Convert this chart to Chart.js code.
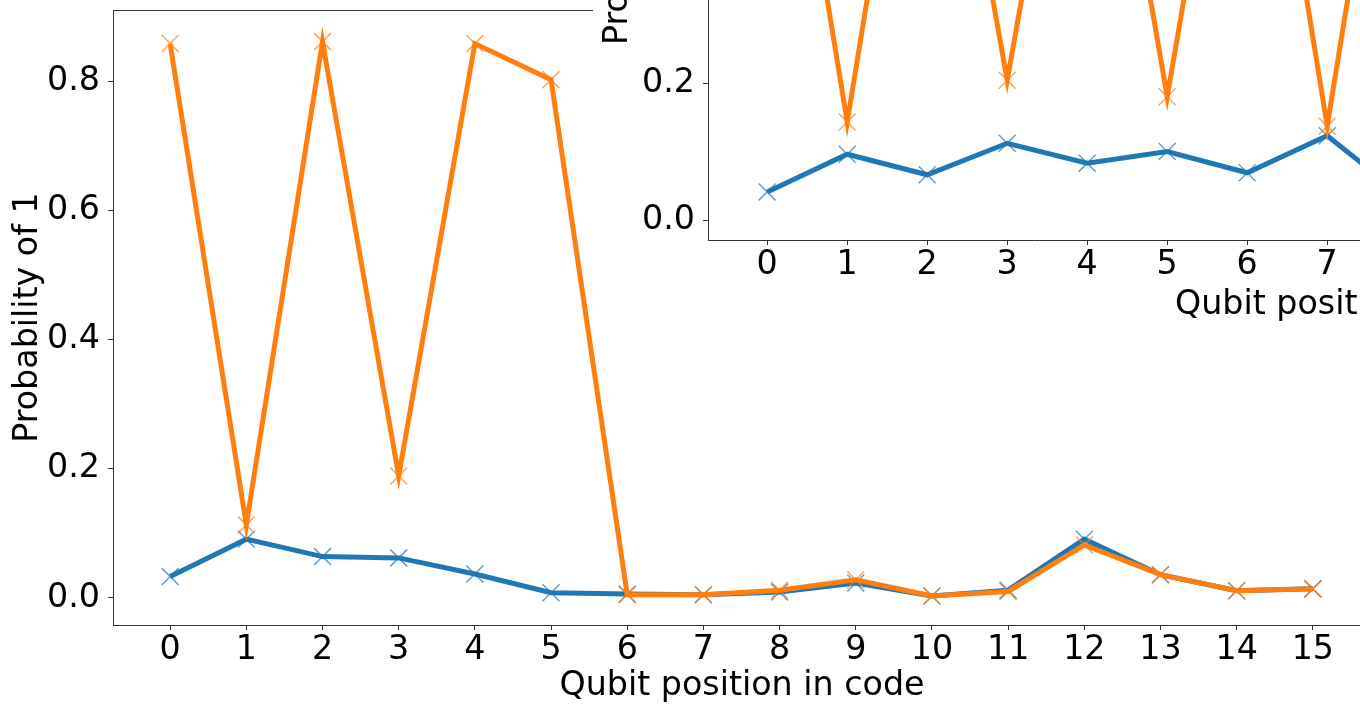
<!DOCTYPE html>
<html>
<head>
<meta charset="utf-8">
<script src="https://cdn.jsdelivr.net/npm/chart.js@4.4.1/dist/chart.umd.min.js"></script>
<style>
    html, body { margin: 0; padding: 0; background: #fff; overflow: hidden; width: 1360px; height: 704px; }
    #main { position: absolute; left: 0; top: 0; }
    #inset { position: absolute; left: 593px; top: 0; background: #fff; }
</style>
</head>
<body>
<canvas id="main" width="1380" height="704"></canvas>
<canvas id="inset" width="767" height="335"></canvas>
<script>
// qubit positions and their tick labels
var qubitPos = [0, 1, 2, 3, 4, 5, 6, 7, 8, 9, 10, 11, 12, 13, 14, 15];
var qubitLabels = ['0', '1', '2', '3', '4', '5', '6', '7', '8', '9', '10', '11', '12', '13', '14', '15'];
var yTicks = [0, 0.2, 0.4, 0.6, 0.8];
var insetYTicks = [0, 0.2];

// main plot
var mainBlue = [0.033, 0.091, 0.064, 0.062, 0.037, 0.008, 0.006, 0.005, 0.009, 0.023, 0.003, 0.012, 0.091, 0.036, 0.011, 0.014];
var mainOrange = [0.859, 0.113, 0.862, 0.189, 0.859, 0.803, 0.005, 0.005, 0.012, 0.028, 0.003, 0.010, 0.082, 0.036, 0.011, 0.014];

// inset plot (only positions 0..8 reach the visible part)
var insetPos = [0, 1, 2, 3, 4, 5, 6, 7, 8];
var insetBlue = [0.041, 0.096, 0.066, 0.112, 0.083, 0.100, 0.069, 0.123, 0.030];
var insetOrange = [0.86, 0.143, 0.86, 0.204, 0.86, 0.180, 0.86, 0.137, 0.86];

var BLUE = '#1f77b4';
var ORANGE = '#ff7f0e';
var FONT = '"DejaVu Sans", sans-serif';
var FONT_SIZE = 33.3;
var AXIS = '#333333';

function points(xs, ys) {
    return ys.map(function (v, i) { return {x: xs[i], y: v}; });
}

function series(xs, ys, color, markerColor, order) {
    return {
        data: points(xs, ys),
        borderColor: color,
        borderWidth: 5,
        pointStyle: 'crossRot',
        pointRadius: 12,
        pointBorderWidth: 1.5,
        pointBorderColor: markerColor,
        pointBackgroundColor: markerColor,
        tension: 0,
        order: order
    };
}

function labelFor(v) {
    var i = qubitPos.indexOf(v);
    return i >= 0 ? qubitLabels[i] : '';
}

function noPad(s) {
    s.paddingTop = 0;
    s.paddingBottom = 0;
    s.paddingLeft = 0;
    s.paddingRight = 0;
}

function axes(xMin, xMax, yMin, yMax, ticksY, xHeight, yWidth) {
    return {
        x: {
            type: 'linear', min: xMin, max: xMax,
            afterBuildTicks: function (s) {
                s.ticks = qubitPos.filter(function (v) { return v >= xMin && v <= xMax; })
                    .map(function (v) { return {value: v}; });
            },
            afterFit: function (s) { s.height = xHeight; noPad(s); },
            grid: {drawOnChartArea: false, drawTicks: true, tickLength: 5, color: AXIS},
            border: {display: true, color: AXIS, width: 1},
            ticks: {
                font: {family: FONT, size: FONT_SIZE}, color: '#000', padding: 0,
                maxRotation: 0, autoSkip: false,
                callback: function (v) { return labelFor(v); }
            }
        },
        y: {
            type: 'linear', min: yMin, max: yMax,
            afterBuildTicks: function (s) {
                s.ticks = ticksY.filter(function (v) { return v >= yMin && v <= yMax; })
                    .map(function (v) { return {value: v}; });
            },
            afterFit: function (s) { s.width = yWidth; noPad(s); },
            grid: {drawOnChartArea: false, drawTicks: true, tickLength: 5, color: AXIS},
            border: {display: true, color: AXIS, width: 1},
            ticks: {
                font: {family: FONT, size: FONT_SIZE}, color: '#000', padding: 8,
                callback: function (v) { return v.toFixed(1); }
            }
        }
    };
}

function textPlugin(items, frame) {
    return {
        id: 'texts',
        afterDraw: function (ch) {
            var c = ch.ctx,
                a = ch.chartArea;
            if (frame) {
                c.save();
                c.strokeStyle = AXIS;
                c.lineWidth = 1;
                c.strokeRect(Math.round(a.left) + 0.5, Math.round(a.top) + 0.5,
                    Math.round(a.right - a.left), Math.round(a.bottom - a.top));
                c.restore();
            }
            items.forEach(function (t) {
                var y = t.y === 'mid' ? (a.top + a.bottom) / 2 : t.y;
                c.save();
                c.font = FONT_SIZE + 'px ' + FONT;
                c.fillStyle = '#000';
                c.textBaseline = 'alphabetic';
                c.textAlign = t.align;
                c.translate(t.x, y);
                if (t.rot) { c.rotate(-Math.PI / 2); }
                c.fillText(t.text, 0, 0);
                c.restore();
            });
        }
    };
}

function baseOptions(scales, padding) {
    return {
        responsive: false,
        animation: false,
        events: [],
        layout: {padding: padding, autoPadding: false},
        plugins: {legend: {display: false}, tooltip: {enabled: false}},
        scales: scales
    };
}

new Chart(document.getElementById('main'), {
    type: 'line',
    data: {
        datasets: [
            series(qubitPos, mainBlue, BLUE, 'rgba(31,119,180,0.7)', 2),
            series(qubitPos, mainOrange, ORANGE, 'rgba(255,127,14,0.7)', 1)
        ]
    },
    options: baseOptions(axes(-0.75, 15.75, -0.042, 0.911, yTicks, 79, 113),
        {top: 10, right: 10, left: 0, bottom: 0}),
    plugins: [textPlugin([
        {text: 'Qubit position in code', x: 742, y: 695, align: 'center'},
        {text: 'Probability of 1', x: 37, y: 'mid', align: 'center', rot: true}
    ], true)]
});

new Chart(document.getElementById('inset'), {
    type: 'line',
    data: {
        datasets: [
            series(insetPos, insetBlue, BLUE, 'rgba(31,119,180,0.7)', 2),
            series(insetPos, insetOrange, ORANGE, 'rgba(255,127,14,0.7)', 1)
        ]
    },
    options: baseOptions(axes(-0.74, 7.41, -0.0292, 0.3212, insetYTicks, 95, 115),
        {top: 0, right: 0, left: 0, bottom: 0}),
    plugins: [textPlugin([
        {text: 'Qubit position in code', x: 582, y: 314, align: 'left'},
        {text: 'Probability of 1', x: 34, y: 45, align: 'left', rot: true}
    ], false)]
});
</script>
</body>
</html>
